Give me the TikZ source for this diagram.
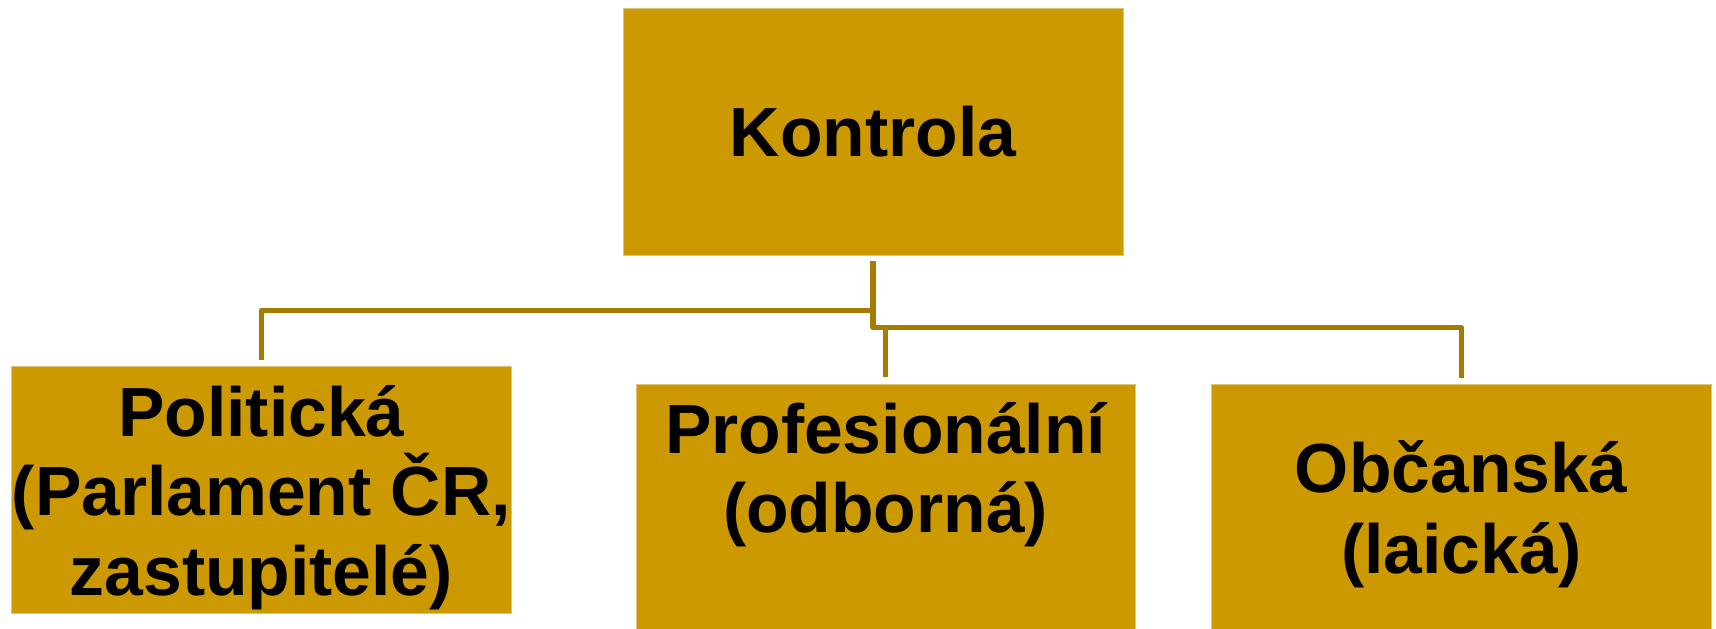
\documentclass[tikz,border=0pt]{standalone}
\usepackage{fontspec}
\setmainfont{Liberation Sans}
\definecolor{boxgold}{RGB}{204,153,0}
\definecolor{boxedge}{RGB}{222,196,120}
\definecolor{linegold}{RGB}{166,124,0}
\begin{document}
\begin{tikzpicture}[x=0.5pt,y=-0.5pt,
  goldbox/.style={fill=boxgold,draw=boxedge,line width=0.4pt,inner sep=0pt,outer sep=0pt},
  lbl/.style={anchor=base,inner sep=0pt,font=\fontsize{34.8pt}{39.75pt}\selectfont\bfseries},
  conn/.style={draw=linegold,line width=2.7pt,line join=round}]
\useasboundingbox (0,0) rectangle (1716,628);
% boxes
\node[goldbox,minimum width=250pt,minimum height=123.5pt] (kbox) at (873,131.5) {};
\node[goldbox,minimum width=249.65pt,minimum height=123.3pt] (pbox) at (261.35,490) {};
\node[goldbox,minimum width=249.5pt,minimum height=124pt] (fbox) at (885.5,508) {};
\node[goldbox,minimum width=249.65pt,minimum height=124pt] (obox) at (1461.35,508) {};
% texts
\node[lbl] (kt) at (873,156.7) {Kontrola};
\node[lbl] (pt1) at (261.3,436) {Politická};
\node[lbl] (pt2) at (261.3,515) {(Parlament ČR,};
\node[lbl] (pt3) at (261.3,595) {zastupitelé)};
\node[lbl] (ft1) at (885.5,453.3) {Profesionální};
\node[lbl] (ft2) at (885.5,532.3) {(odborná)};
\node[lbl] (ot1) at (1461.3,492.5) {Občanská};
\node[lbl] (ot2) at (1461.3,573) {(laická)};
% connectors
\coordinate (j1) at (873,310.3);
\coordinate (j2) at (873,327.7);
\draw[conn] ([yshift=-2.9pt]kbox.south) -- (j1) -| ([yshift=3.3pt]pbox.north);
\draw[conn] (j1) -- (j2) -| ([yshift=3.2pt]obox.north);
\draw[conn] (fbox.north |- j2) -- ([yshift=3.3pt]fbox.north);
\end{tikzpicture}
\end{document}
